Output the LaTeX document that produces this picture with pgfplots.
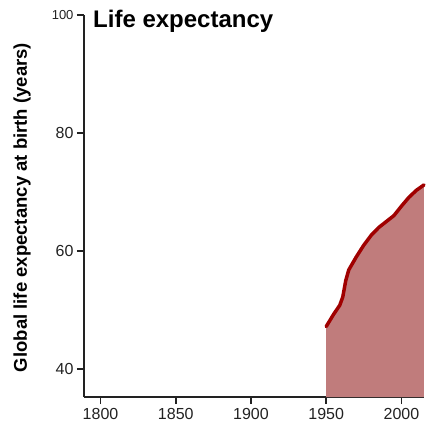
\documentclass[border=0pt]{standalone}
\usepackage{pgfplots}
\pgfplotsset{compat=1.18}
\usepackage{fontspec}
\setmainfont{Liberation Sans}
\definecolor{areafill}{HTML}{C07C7C}
\definecolor{linered}{HTML}{A00000}
\definecolor{axgray}{HTML}{222222}
\begin{document}
\begin{tikzpicture}
\begin{axis}[
  name=ax,
  scale only axis,
  width=340pt, height=382pt,
  xmin=1789, xmax=2015,
  ymin=35.25, ymax=100,
  enlargelimits=false,
  axis x line*=bottom,
  axis y line*=left,
  axis line style={line width=1.6pt, color=axgray, -},
  xtick={1800,1850,1900,1950,2000},
  ytick={40,60,80,100},
  yticklabels={40,60,80,{\fontsize{13}{14}\selectfont 100}},
  tick align=outside,
  major tick length=7pt,
  tick style={line width=1.6pt, color=axgray},
  /pgf/number format/assume math mode=true,
  /pgf/number format/1000 sep={},
  ticklabel style={font=\fontsize{16}{18}\selectfont, text=axgray},
  xticklabel style={yshift=-1pt},
  ylabel={\fontsize{18.5}{20}\selectfont\bfseries Global life expectancy at birth (years)},
  ylabel style={at={(axis description cs:-0.182,0.496)}, anchor=center},
  clip=false,
]
\addplot[fill=areafill, draw=none] coordinates {
(1950,47.2) (1955,49.3) (1959,50.8) (1961,52.2) (1963,55.0) (1965,56.8)
(1970,59.0) (1975,61.0) (1980,62.7) (1985,64.0) (1990,65.0) (1995,66.0)
(2000,67.6) (2005,69.1) (2010,70.3) (2015,71.2)
} \closedcycle;
\addplot[linered, line width=3.5pt, line join=round, line cap=round] coordinates {
(1950,47.2) (1955,49.3) (1959,50.8) (1961,52.2) (1963,55.0) (1965,56.8)
(1970,59.0) (1975,61.0) (1980,62.7) (1985,64.0) (1990,65.0) (1995,66.0)
(2000,67.6) (2005,69.1) (2010,70.3) (2015,71.2)
};
\node[anchor=base west, font=\fontsize{24}{28}\selectfont\bfseries, inner sep=0pt]
  at ([xshift=9pt,yshift=-13pt]rel axis cs:0,1) {Life expectancy};
\end{axis}
\path ([xshift=-84pt,yshift=-33pt]ax.south west) rectangle ([xshift=2pt,yshift=15pt]ax.north east);
\end{tikzpicture}
\end{document}
